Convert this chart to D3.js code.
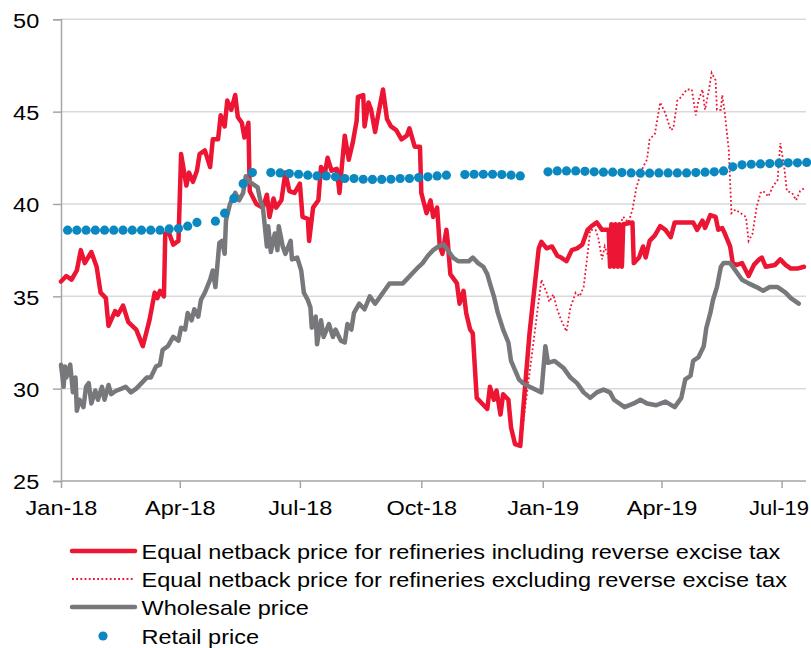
<!DOCTYPE html>
<html><head><meta charset="utf-8">
<script src="https://cdn.jsdelivr.net/npm/d3@7"></script>
<style>
html,body{margin:0;padding:0;background:#fff;}
svg{display:block;}
text{font-family:"Liberation Sans",Arial,sans-serif;fill:#000;}
</style></head>
<body><svg id="chart" width="811" height="648"></svg>
<script>
// ---------------- DATA ----------------
const seriesNames = [
  "Equal netback price for refineries including reverse excise tax",
  "Equal netback price for refineries excluding reverse excise tax",
  "Wholesale price",
  "Retail price"
];
const yTicks = [25, 30, 35, 40, 45, 50];
const xTickDates = ["2018-01-01","2018-04-01","2018-07-01","2018-10-01","2019-01-01","2019-04-01","2019-07-01"];

const includingTax = [
["2018-01-01",35.8],["2018-01-05",36.1],["2018-01-09",35.9],["2018-01-13",36.4],["2018-01-16",37.5],["2018-01-19",36.8],
["2018-01-24",37.4],["2018-01-28",36.6],["2018-01-31",35.2],["2018-02-04",34.9],["2018-02-06",33.4],["2018-02-11",34.2],
["2018-02-13",34.0],["2018-02-17",34.5],["2018-02-21",33.6],["2018-02-24",33.4],["2018-02-27",33.2],["2018-03-04",32.3],
["2018-03-09",33.7],["2018-03-13",35.2],["2018-03-15",34.9],["2018-03-17",35.3],["2018-03-20",35.0],["2018-03-21",38.4],
["2018-03-24",38.4],["2018-03-27",37.8],["2018-03-31",38.0],["2018-04-02",42.7],["2018-04-06",41.0],["2018-04-08",41.7],
["2018-04-11",41.2],["2018-04-14",41.8],["2018-04-16",42.7],["2018-04-20",42.9],["2018-04-24",42.0],["2018-04-26",43.5],
["2018-04-30",43.5],["2018-05-02",44.8],["2018-05-05",44.2],["2018-05-07",45.6],["2018-05-10",45.1],["2018-05-13",45.9],
["2018-05-15",44.7],["2018-05-18",44.4],["2018-05-20",43.6],["2018-05-23",44.4],["2018-05-24",40.7],["2018-05-29",40.0],
["2018-06-03",39.8],["2018-06-06",40.5],["2018-06-08",39.3],["2018-06-11",40.3],["2018-06-13",39.8],["2018-06-17",40.2],
["2018-06-20",41.7],["2018-06-23",40.7],["2018-06-27",40.6],["2018-07-01",41.1],["2018-07-03",39.3],["2018-07-07",39.2],
["2018-07-08",38.0],["2018-07-11",39.8],["2018-07-15",40.2],["2018-07-17",42.0],["2018-07-20",41.7],["2018-07-22",42.5],
["2018-07-25",41.8],["2018-07-29",41.9],["2018-07-31",40.6],["2018-08-02",42.2],["2018-08-04",43.7],["2018-08-07",42.4],
["2018-08-10",43.3],["2018-08-13",44.5],["2018-08-14",45.8],["2018-08-18",45.9],["2018-08-19",44.2],["2018-08-22",45.5],
["2018-08-24",45.1],["2018-08-27",43.9],["2018-08-29",44.7],["2018-09-02",46.2],["2018-09-05",44.6],["2018-09-08",44.2],
["2018-09-12",44.0],["2018-09-16",43.5],["2018-09-20",43.7],["2018-09-22",44.1],["2018-09-26",43.1],["2018-09-30",43.1],
["2018-10-01",40.6],["2018-10-05",39.5],["2018-10-08",40.2],["2018-10-10",39.3],["2018-10-13",39.8],["2018-10-15",37.7],
["2018-10-17",37.3],["2018-10-20",38.6],["2018-10-21",38.0],["2018-10-23",36.2],["2018-10-28",35.7],["2018-10-30",34.6],
["2018-11-02",35.3],["2018-11-04",34.1],["2018-11-07",33.2],["2018-11-09",33.0],["2018-11-12",29.5],["2018-11-16",29.2],
["2018-11-20",28.9],["2018-11-22",30.1],["2018-11-25",29.4],["2018-11-27",29.9],["2018-11-30",28.6],["2018-12-02",29.7],
["2018-12-06",29.4],["2018-12-08",27.9],["2018-12-11",27.0],["2018-12-15",26.9],["2018-12-17",28.7],["2018-12-22",33.0],
["2018-12-29",37.6],["2018-12-31",37.95],["2019-01-04",37.6],["2019-01-08",37.7],["2019-01-12",37.2],["2019-01-15",37.1],
["2019-01-19",36.9],["2019-01-23",37.5],["2019-01-27",37.6],["2019-01-31",37.8],["2019-02-04",38.6],["2019-02-07",38.8],
["2019-02-11",39.0],["2019-02-15",38.6],["2019-02-20",38.6],["2019-02-21",36.6],["2019-02-22",38.9],["2019-02-24",36.6],
["2019-02-25",38.9],["2019-02-27",36.6],["2019-02-28",38.9],["2019-03-02",36.6],["2019-03-03",38.9],["2019-03-10",39.0],
["2019-03-11",36.8],["2019-03-15",37.1],["2019-03-18",37.7],["2019-03-20",37.1],["2019-03-23",38.0],["2019-03-27",38.3],
["2019-03-31",38.8],["2019-04-04",38.6],["2019-04-08",38.2],["2019-04-11",39.0],["2019-04-20",39.0],["2019-04-25",39.0],
["2019-04-28",38.6],["2019-05-02",39.1],["2019-05-04",38.7],["2019-05-08",39.4],["2019-05-12",39.3],["2019-05-14",38.6],
["2019-05-17",38.7],["2019-05-19",38.4],["2019-05-23",37.7],["2019-05-25",36.8],["2019-05-28",36.7],["2019-06-01",36.8],
["2019-06-06",36.1],["2019-06-10",36.7],["2019-06-14",37.0],["2019-06-16",37.1],["2019-06-19",36.6],["2019-06-26",36.7],
["2019-06-30",37.0],["2019-07-04",36.7],["2019-07-08",36.5],["2019-07-13",36.5],["2019-07-18",36.6]
];

const excludingTax = [
["2018-12-15",26.9],["2018-12-31",35.9],["2019-01-04",35.2],["2019-01-06",34.7],["2019-01-09",35.1],["2019-01-12",34.3],
["2019-01-15",33.7],["2019-01-19",33.1],["2019-01-22",34.4],["2019-01-26",35.2],["2019-01-29",35.0],["2019-02-01",35.5],
["2019-02-04",37.3],["2019-02-06",38.6],["2019-02-10",38.6],["2019-02-12",38.2],["2019-02-15",37.0],["2019-02-17",37.7],
["2019-02-20",37.1],["2019-02-24",39.0],["2019-02-27",38.6],["2019-03-03",39.3],["2019-03-07",39.0],["2019-03-10",39.7],
["2019-03-13",40.9],["2019-03-16",41.6],["2019-03-18",42.0],["2019-03-21",42.4],["2019-03-23",43.5],["2019-03-27",43.8],
["2019-03-31",45.5],["2019-04-04",44.9],["2019-04-08",44.0],["2019-04-10",44.1],["2019-04-13",45.6],["2019-04-16",45.8],
["2019-04-20",46.2],["2019-04-24",46.2],["2019-04-27",44.8],["2019-04-29",45.6],["2019-05-02",46.2],["2019-05-04",45.1],
["2019-05-07",46.2],["2019-05-09",47.1],["2019-05-12",46.7],["2019-05-13",45.1],["2019-05-16",45.1],["2019-05-17",45.9],
["2019-05-19",44.9],["2019-05-22",42.9],["2019-05-24",39.5],["2019-05-27",39.7],["2019-05-31",39.5],["2019-06-04",39.3],
["2019-06-06",38.0],["2019-06-09",38.4],["2019-06-12",39.8],["2019-06-15",40.6],["2019-06-17",40.7],["2019-06-21",40.4],
["2019-06-24",40.9],["2019-06-28",41.3],["2019-06-30",43.3],["2019-07-03",42.0],["2019-07-05",40.7],["2019-07-09",40.6],
["2019-07-12",40.2],["2019-07-15",40.7],["2019-07-19",40.9]
];

const wholesale = [
["2018-01-01",31.3],["2018-01-03",30.1],["2018-01-04",31.2],["2018-01-05",30.6],["2018-01-08",31.3],["2018-01-10",29.8],
["2018-01-12",30.6],["2018-01-13",28.8],["2018-01-15",29.4],["2018-01-18",29.0],["2018-01-20",30.1],["2018-01-22",30.3],
["2018-01-24",29.2],["2018-01-27",29.9],["2018-01-29",29.4],["2018-02-01",30.1],["2018-02-03",29.4],["2018-02-06",30.2],
["2018-02-08",29.7],["2018-02-12",29.9],["2018-02-16",30.0],["2018-02-19",30.1],["2018-02-23",29.8],["2018-02-27",30.0],
["2018-03-03",30.3],["2018-03-07",30.6],["2018-03-10",30.6],["2018-03-14",31.2],["2018-03-17",31.3],["2018-03-19",32.1],
["2018-03-23",32.3],["2018-03-27",32.8],["2018-03-31",32.6],["2018-04-02",33.3],["2018-04-05",33.2],["2018-04-07",34.1],
["2018-04-10",33.7],["2018-04-12",34.3],["2018-04-15",33.9],["2018-04-17",34.8],["2018-04-20",35.2],["2018-04-24",35.9],
["2018-04-26",36.4],["2018-04-28",35.5],["2018-05-01",37.9],["2018-05-03",38.0],["2018-05-05",37.3],["2018-05-06",39.1],
["2018-05-09",40.0],["2018-05-13",40.6],["2018-05-16",40.2],["2018-05-19",40.6],["2018-05-21",41.5],["2018-05-24",41.2],
["2018-05-30",40.9],["2018-06-01",40.2],["2018-06-03",39.8],["2018-06-06",37.7],["2018-06-07",38.8],["2018-06-09",37.4],
["2018-06-12",38.4],["2018-06-14",37.5],["2018-06-15",38.8],["2018-06-18",37.7],["2018-06-20",37.3],["2018-06-24",38.0],
["2018-06-25",37.0],["2018-06-29",37.1],["2018-07-02",36.4],["2018-07-04",35.2],["2018-07-07",34.8],["2018-07-09",34.4],
["2018-07-10",33.3],["2018-07-13",33.9],["2018-07-14",32.4],["2018-07-17",33.7],["2018-07-19",32.8],["2018-07-23",33.5],
["2018-07-26",32.8],["2018-07-28",33.2],["2018-08-01",32.6],["2018-08-04",32.5],["2018-08-06",33.5],["2018-08-09",33.2],
["2018-08-11",34.1],["2018-08-15",34.6],["2018-08-19",34.3],["2018-08-23",35.0],["2018-08-27",34.6],["2018-08-31",35.0],
["2018-09-03",35.3],["2018-09-07",35.7],["2018-09-17",35.7],["2018-09-21",36.0],["2018-09-25",36.3],["2018-09-29",36.6],
["2018-10-02",36.8],["2018-10-06",37.2],["2018-10-10",37.5],["2018-10-14",37.7],["2018-10-18",37.8],["2018-10-21",37.5],
["2018-10-25",37.1],["2018-10-29",36.9],["2018-11-06",36.9],["2018-11-09",37.1],["2018-11-13",36.8],["2018-11-17",36.6],
["2018-11-20",36.2],["2018-11-22",35.7],["2018-11-25",35.0],["2018-11-28",34.1],["2018-12-02",33.2],["2018-12-06",32.5],
["2018-12-08",31.5],["2018-12-11",31.0],["2018-12-14",30.5],["2018-12-17",30.3],["2018-12-22",30.1],["2018-12-31",29.8],
["2019-01-03",32.3],["2019-01-05",31.4],["2019-01-10",31.5],["2019-01-17",31.1],["2019-01-22",30.6],["2019-01-27",30.3],
["2019-02-01",29.8],["2019-02-06",29.5],["2019-02-11",29.8],["2019-02-16",29.95],["2019-02-21",29.8],["2019-02-24",29.4],
["2019-03-04",29.0],["2019-03-11",29.2],["2019-03-16",29.4],["2019-03-21",29.2],["2019-03-28",29.1],["2019-04-04",29.3],
["2019-04-11",29.0],["2019-04-16",29.5],["2019-04-19",30.5],["2019-04-23",30.7],["2019-04-25",31.5],["2019-04-29",31.7],
["2019-05-03",32.3],["2019-05-05",33.3],["2019-05-08",34.1],["2019-05-10",34.8],["2019-05-13",35.5],["2019-05-16",36.6],
["2019-05-18",36.8],["2019-05-23",36.8],["2019-05-27",36.4],["2019-06-01",35.9],["2019-06-06",35.7],["2019-06-12",35.5],
["2019-06-17",35.3],["2019-06-22",35.5],["2019-06-28",35.5],["2019-07-04",35.2],["2019-07-08",34.9],["2019-07-14",34.6]
];

// weekly retail observations (null = no observation that week)
const retailStart = "2018-01-06";
const retail = [
38.58,38.58,38.58,38.58,38.58,38.58,38.58,38.58,38.58,38.58,38.58,38.65,38.67,38.8,39.0,null,
39.07,39.5,40.3,41.1,41.7,null,
41.70,41.68,41.65,41.61,41.56,41.52,41.52,41.47,41.38,41.38,41.34,41.33,41.33,41.34,41.38,41.38,41.43,41.47,41.52,41.56,null,
41.59,41.61,41.61,41.61,41.59,41.56,41.52,null,null,
41.74,41.79,41.79,41.79,41.77,41.74,41.72,41.72,41.70,41.68,41.67,41.67,41.68,41.68,41.68,41.68,41.70,41.72,41.74,41.79,
42.01,42.12,42.15,42.17,42.19,42.21,42.23,42.23,42.25
];

// ---------------- DRAW ----------------
const parse = d3.utcParse("%Y-%m-%d");
const svg = d3.select("#chart");
const SX = 1.12;           // horizontal stretch of the reference's text
const FS = 21;
const red = "#ec1533", grey = "#77787b", blue = "#0a88bf";

const x = d3.scaleUtc().domain([parse("2018-01-01"), parse("2019-07-01")]).range([61, 781.6]);
const y = d3.scaleLinear().domain([25, 50]).range([481, 19.3]);
const xRight = 806;

// gridlines
svg.append("g").selectAll("line").data(yTicks.filter(v => v > 25)).join("line")
  .attr("x1", 61).attr("x2", xRight).attr("y1", d => y(d)).attr("y2", d => y(d))
  .attr("stroke", "#d9d9d9").attr("stroke-width", 1.5);

// y axis
const yAxis = svg.append("g").attr("transform", "translate(61,0)")
  .call(d3.axisLeft(y).tickValues(yTicks).tickSize(8).tickPadding(11.4).tickFormat(d3.format("d")));
yAxis.select(".domain").attr("stroke", "#a6a6a6").attr("stroke-width", 1.5);
yAxis.selectAll(".tick line").attr("stroke", "#a6a6a6").attr("stroke-width", 1.5);
yAxis.selectAll(".tick text").attr("font-size", FS).attr("fill", "#000")
  .attr("dy", "0.38em").attr("transform", `scale(${SX},1)`)
  .attr("font-family", '"Liberation Sans", Arial, sans-serif');

// x axis
const xAxis = svg.append("g").attr("transform", "translate(0,481)")
  .call(d3.axisBottom(x).tickValues(xTickDates.map(parse)).tickSize(7).tickPadding(12)
    .tickFormat(d3.utcFormat("%b-%y")));
xAxis.select(".domain").remove();
xAxis.append("line").attr("x1", 61).attr("x2", xRight).attr("y1", 0).attr("y2", 0)
  .attr("stroke", "#a6a6a6").attr("stroke-width", 1.5);
xAxis.selectAll(".tick line").attr("stroke", "#a6a6a6").attr("stroke-width", 1.5);
const nT = xTickDates.length;
xAxis.selectAll(".tick text").attr("font-size", FS).attr("fill", "#000")
  .attr("transform", (d, i) => i === nT - 1 ? `translate(-3,0) scale(1.05,1)` : `scale(${SX},1)`)
  .attr("font-family", '"Liberation Sans", Arial, sans-serif');

// lines
const line = d3.line().x(d => x(parse(d[0]))).y(d => y(d[1]));
svg.append("path").datum(includingTax).attr("d", line)
  .attr("fill", "none").attr("stroke", red).attr("stroke-width", 4.5)
  .attr("stroke-linejoin", "round").attr("stroke-linecap", "round");
svg.append("path").datum(excludingTax).attr("d", line)
  .attr("fill", "none").attr("stroke", red).attr("stroke-width", 1.8)
  .attr("stroke-dasharray", "1.8 2.4");
svg.append("path").datum(wholesale).attr("d", line)
  .attr("fill", "none").attr("stroke", grey).attr("stroke-width", 4.5)
  .attr("stroke-linejoin", "round").attr("stroke-linecap", "round");

// retail dots
const start = parse(retailStart);
const retailPts = retail.map((v, i) => ({date: d3.utcDay.offset(start, 7 * i), v})).filter(d => d.v != null);
svg.append("g").selectAll("circle").data(retailPts).join("circle")
  .attr("cx", d => x(d.date)).attr("cy", d => y(d.v)).attr("r", 4.6).attr("fill", blue);

// legend
const legRows = [551, 579, 607, 636];
const lg = svg.append("g");
seriesNames.forEach((name, i) => {
  const cy = legRows[i];
  if (i === 0) lg.append("line").attr("x1", 72).attr("x2", 135).attr("y1", cy).attr("y2", cy)
      .attr("stroke", red).attr("stroke-width", 4.5).attr("stroke-linecap", "round");
  if (i === 1) lg.append("line").attr("x1", 72).attr("x2", 135).attr("y1", cy).attr("y2", cy)
      .attr("stroke", red).attr("stroke-width", 1.8).attr("stroke-dasharray", "1.8 2.4");
  if (i === 2) lg.append("line").attr("x1", 72).attr("x2", 135).attr("y1", cy).attr("y2", cy)
      .attr("stroke", grey).attr("stroke-width", 4.5).attr("stroke-linecap", "round");
  if (i === 3) lg.append("circle").attr("cx", 103).attr("cy", cy).attr("r", 4.6).attr("fill", blue);
  lg.append("text").attr("transform", `translate(141.5,${cy + 7.5}) scale(${SX},1)`)
    .attr("font-size", FS).text(name);
});
</script></body></html>
